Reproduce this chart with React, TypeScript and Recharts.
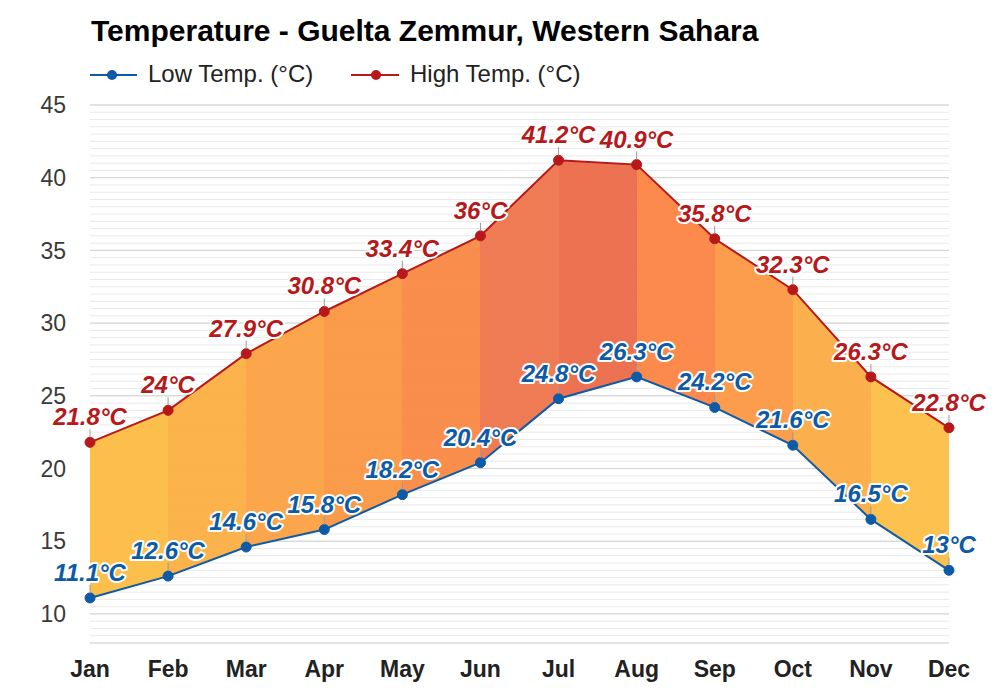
import { ComposedChart, Area, Line, XAxis, YAxis, CartesianGrid, LabelList } from 'recharts';

const months = ['Jan', 'Feb', 'Mar', 'Apr', 'May', 'Jun', 'Jul', 'Aug', 'Sep', 'Oct', 'Nov', 'Dec'];
const lowTemps = [11.1, 12.6, 14.6, 15.8, 18.2, 20.4, 24.8, 26.3, 24.2, 21.6, 16.5, 13];
const highTemps = [21.8, 24, 27.9, 30.8, 33.4, 36, 41.2, 40.9, 35.8, 32.3, 26.3, 22.8];
const yTicks = [10, 15, 20, 25, 30, 35, 40, 45];
const yMinorLines = [
  8, 8.5, 9, 9.5, 10, 10.5, 11, 11.5, 12, 12.5, 13, 13.5, 14, 14.5, 15, 15.5, 16, 16.5, 17, 17.5,
  18, 18.5, 19, 19.5, 20, 20.5, 21, 21.5, 22, 22.5, 23, 23.5, 24, 24.5, 25, 25.5, 26, 26.5, 27, 27.5,
  28, 28.5, 29, 29.5, 30, 30.5, 31, 31.5, 32, 32.5, 33, 33.5, 34, 34.5, 35, 35.5, 36, 36.5, 37, 37.5,
  38, 38.5, 39, 39.5, 40, 40.5, 41, 41.5, 42, 42.5, 43, 43.5, 44, 44.5, 45,
];

// fill colour of each month-to-month band (Jan-Feb ... Nov-Dec)
const bandColors = [
  '#fcbd46', '#fbb046', '#fba346', '#fa9845', '#f98a47', '#ef774f',
  '#ec6d4c', '#fc8646', '#fb9a46', '#fbad48', '#fcbf49',
];

const LOW = '#0d5aa6';
const HIGH = '#b7191b';
const FONT = '"Liberation Sans", Arial, Helvetica, sans-serif';

const data = months.map((m, i) => ({ month: m, low: lowTemps[i], high: highTemps[i] }));

function tempLabel(color: string) {
  return (props: any) => {
    const { x, y, value } = props;
    return (
      <g>
        <line x1={x} x2={x} y1={y - 13} y2={y - 5} stroke="#9a9a9a" strokeWidth={1} />
        <text
          x={x}
          y={y - 17}
          textAnchor="middle"
          fontSize={24}
          fontWeight="bold"
          fontStyle="italic"
          fill={color}
          stroke="#ffffff"
          strokeWidth={4}
          strokeLinejoin="round"
          paintOrder="stroke"
        >
          {`${value}°C`}
        </text>
      </g>
    );
  };
}

export default function App() {
  const n = bandColors.length;
  return (
    <div style={{ position: 'absolute', left: 0, top: 0, width: 1000, height: 700, background: '#fff', fontFamily: FONT }}>
      <ComposedChart width={1000} height={700} data={data} margin={{ top: 105, right: 51, bottom: 0, left: 0 }}>
        <defs>
          <linearGradient id="bands" x1="0" y1="0" x2="1" y2="0">
            {bandColors.flatMap((c, i) => [
              <stop key={`a${i}`} offset={i / n} stopColor={c} />,
              <stop key={`b${i}`} offset={(i + 1) / n} stopColor={c} />,
            ])}
          </linearGradient>
        </defs>
        {/* half-degree minor lines, then the 5-degree major lines */}
        <CartesianGrid vertical={false} yAxisId="minor" stroke="#e9e9e9" strokeWidth={1} />
        <CartesianGrid vertical={false} stroke="#d2d2d2" strokeWidth={1} />
        <XAxis
          dataKey="month"
          scale="point"
          padding={{ left: 0, right: 0 }}
          height={57}
          axisLine={false}
          tickLine={false}
          tickSize={0}
          tickMargin={18}
          tick={{ fontSize: 23, fontWeight: 'bold', fill: '#222' }}
          interval={0}
        />
        <YAxis
          domain={[8, 45]}
          ticks={yTicks}
          width={90}
          axisLine={false}
          tickLine={false}
          tickSize={0}
          tickMargin={24}
          tick={{ fontSize: 23, fill: '#3a3a3a' }}
          allowDataOverflow
        />
        <YAxis yAxisId="minor" hide domain={[8, 45]} ticks={yMinorLines} interval={0} allowDataOverflow />
        <Area
          type="linear"
          dataKey={(d: any) => [d.low, d.high]}
          stroke="none"
          fill="url(#bands)"
          fillOpacity={0.97}
          isAnimationActive={false}
          activeDot={false}
        />
        <Line
          type="linear"
          dataKey="low"
          stroke={LOW}
          strokeWidth={2}
          dot={{ r: 5, fill: LOW, stroke: LOW, strokeWidth: 1 }}
          activeDot={false}
          isAnimationActive={false}
        >
          <LabelList dataKey="low" content={tempLabel(LOW)} />
        </Line>
        <Line
          type="linear"
          dataKey="high"
          stroke={HIGH}
          strokeWidth={2}
          dot={{ r: 5, fill: HIGH, stroke: HIGH, strokeWidth: 1 }}
          activeDot={false}
          isAnimationActive={false}
        >
          <LabelList dataKey="high" content={tempLabel(HIGH)} />
        </Line>
      </ComposedChart>
      <svg width={1000} height={100} style={{ position: 'absolute', left: 0, top: 0 }}>
        <text x={91} y={41} fontSize={30} fontWeight="bold" fill="#000">
          Temperature - Guelta Zemmur, Western Sahara
        </text>
        <line x1={90} x2={137} y1={75} y2={75} stroke={LOW} strokeWidth={2} />
        <circle cx={112} cy={75} r={5} fill={LOW} />
        <text x={148} y={82} fontSize={24} fill="#222">Low Temp. (°C)</text>
        <line x1={351} x2={399} y1={75} y2={75} stroke={HIGH} strokeWidth={2} />
        <circle cx={376} cy={75} r={5} fill={HIGH} />
        <text x={410} y={82} fontSize={24} fill="#222">High Temp. (°C)</text>
      </svg>
    </div>
  );
}
